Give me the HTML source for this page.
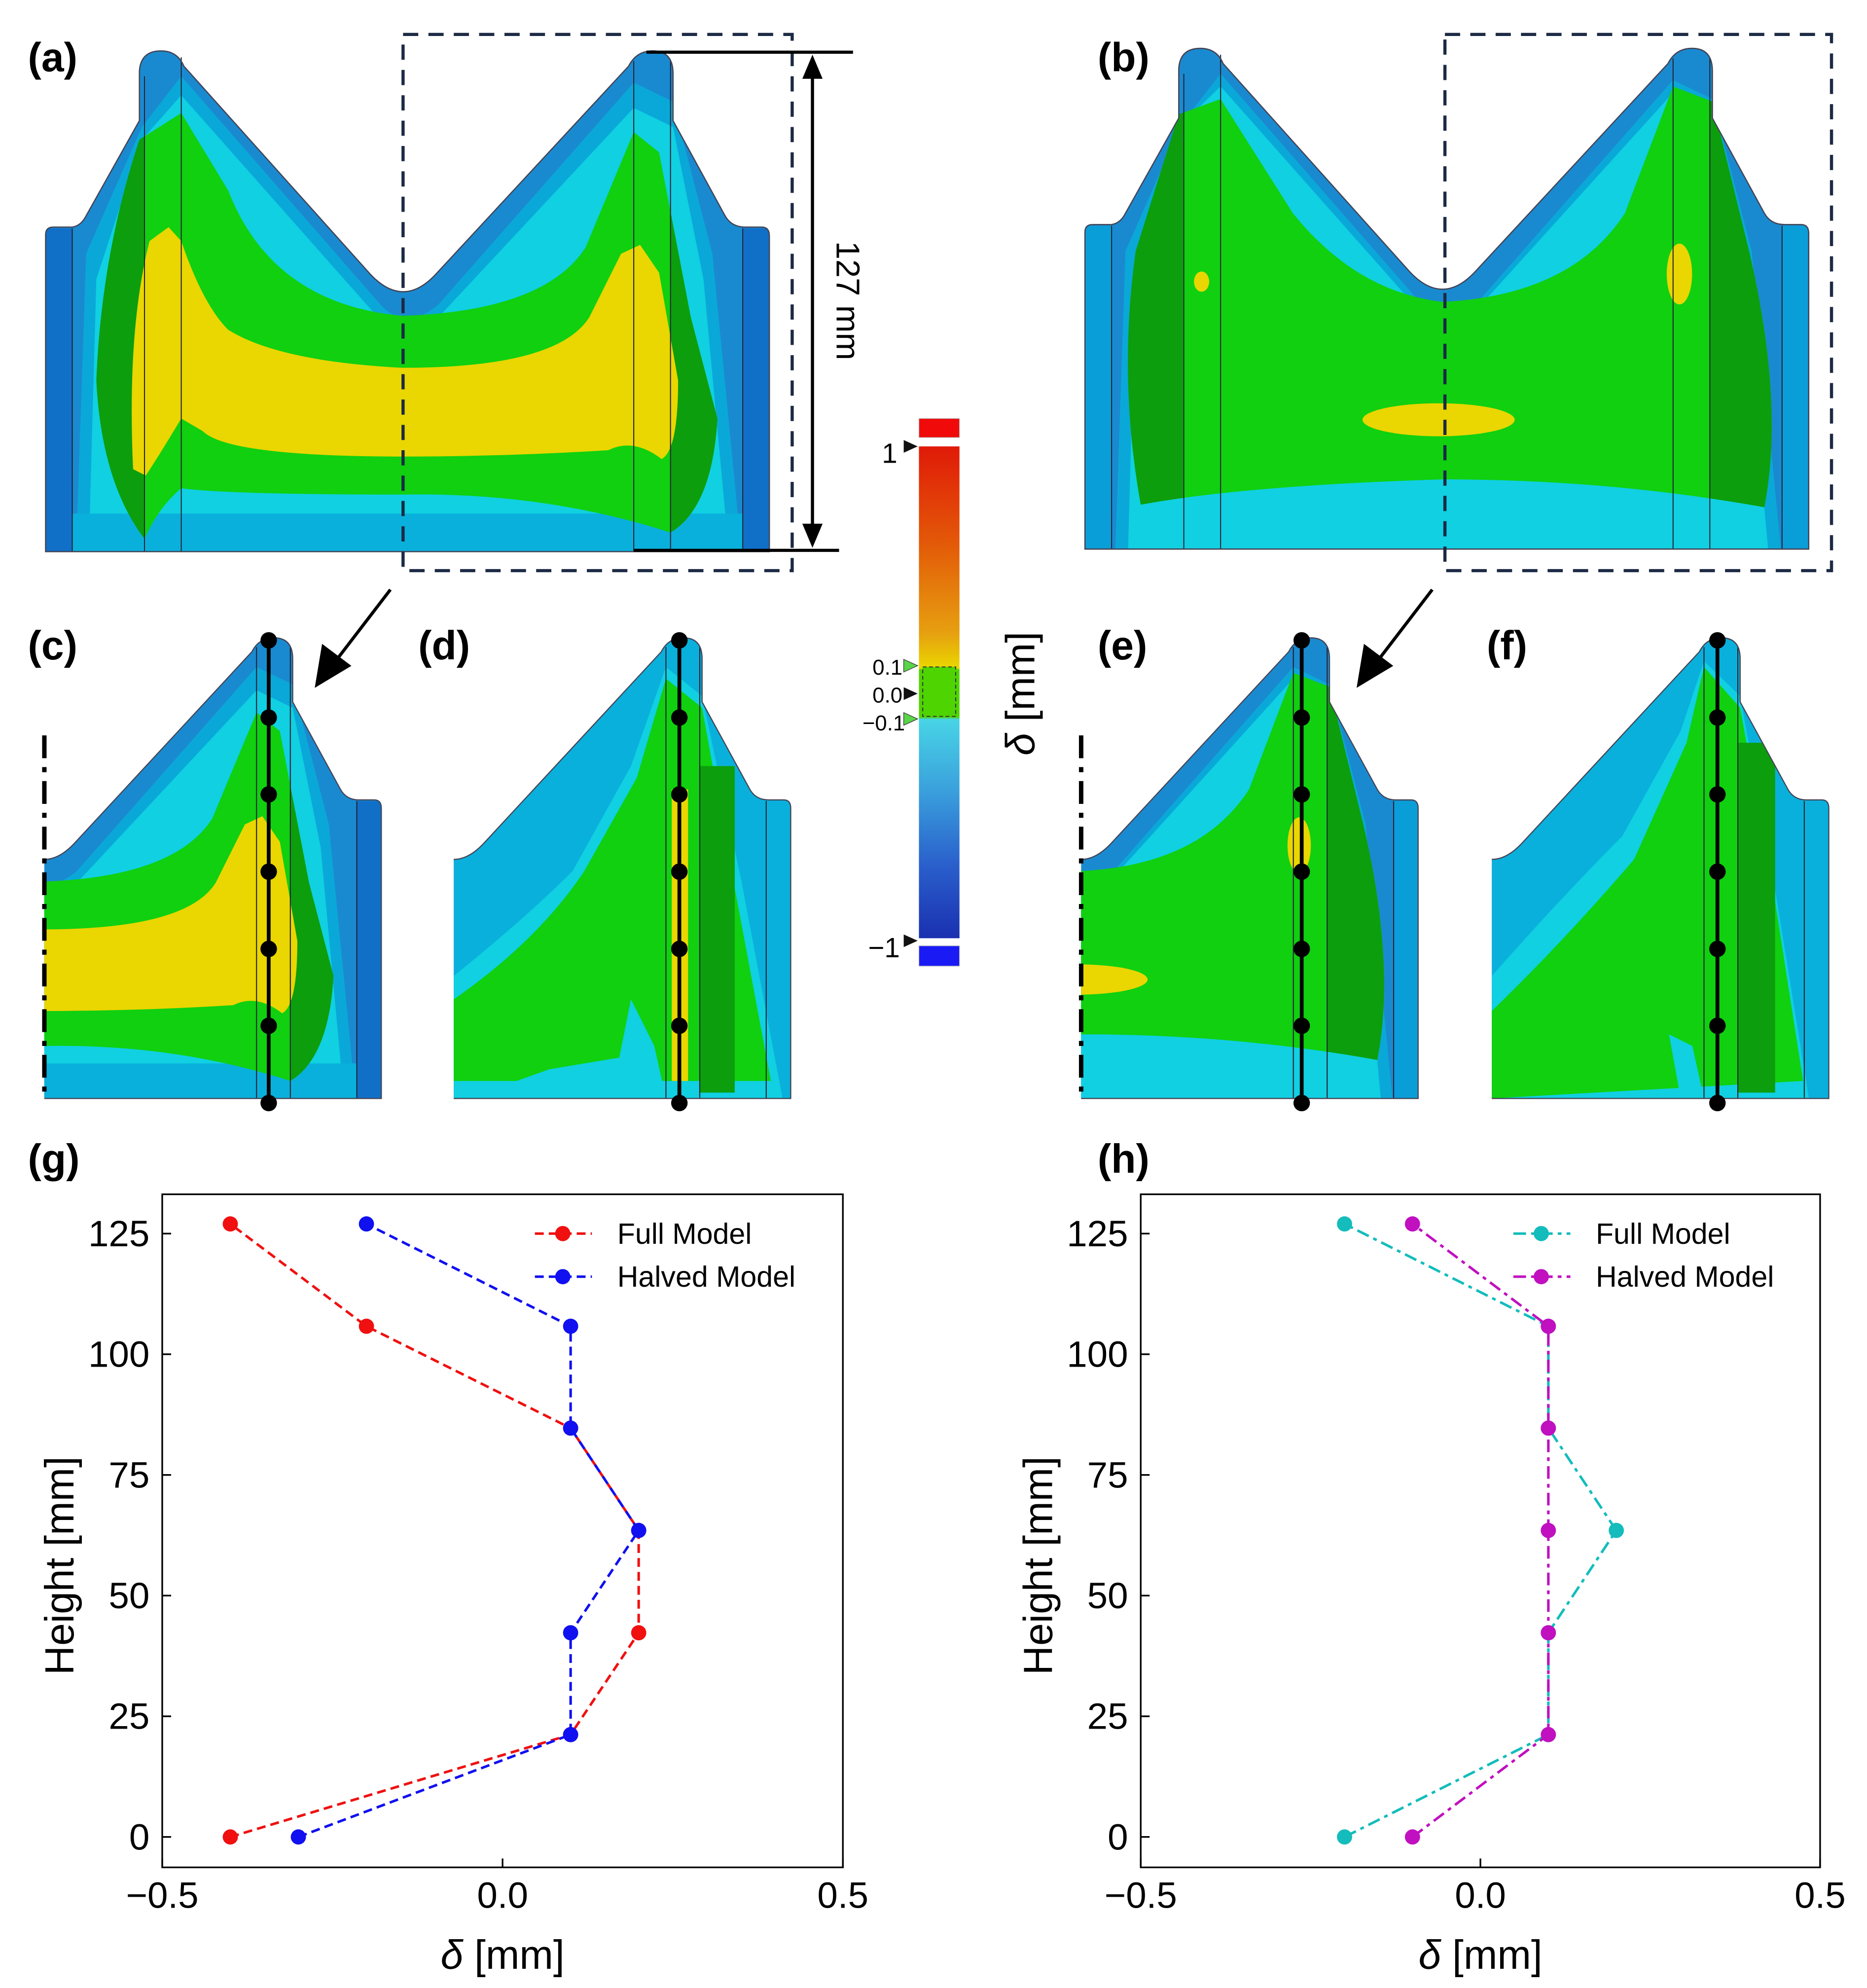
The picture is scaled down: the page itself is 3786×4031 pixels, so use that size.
<!DOCTYPE html>
<html><head><meta charset="utf-8"><style>
html,body{margin:0;padding:0;background:#fff}
svg{display:block}
text{font-family:"Liberation Sans","DejaVu Sans",sans-serif}
</style></head><body>
<svg id="fig" width="3786" height="4031" viewBox="0 0 1473 1568" xmlns="http://www.w3.org/2000/svg">
<defs>
<path id="outline" d="M36,435 L36,185 Q36,179 42,179 L57,179 Q64,178 68,170 L110,95 L110,56 Q111,40 127,40 Q140,40 145,52 L292,216 Q318,244 344,216 L496,52 Q502,40 515,40 Q531,40 531,58 L531,95 L572,170 Q577,179 588,179 L601,179 Q607,179 607,186 L607,435 Z"/>
<clipPath id="clipFull"><use href="#outline"/></clipPath>
<clipPath id="clipRight"><rect x="318" y="0" width="300" height="450"/></clipPath>
<path id="greenA" d="M114,425 Q80,380 76,300 Q80,200 110,110 L143,89 L180,150 Q215,240 318,249 Q430,245 462,195 L500,104 L520,120 L545,250 L566,330 Q562,400 529,420 Q430,388 318,390 Q180,390 143,385 Q125,400 114,425 Z"/>
<clipPath id="clipGreenA"><use href="#greenA"/></clipPath>
<path id="greenB" d="M80,400 Q62,300 76,200 L110,92 L143,80 L200,170 Q250,232 318,240 Q420,235 462,170 L500,70 L531,82 L560,200 Q588,320 572,402 Q450,380 318,380 Q160,385 80,400 Z"/>
<clipPath id="clipGreenB"><use href="#greenB"/></clipPath>
<linearGradient id="cbar" x1="0" y1="0" x2="0" y2="1">
<stop offset="0" stop-color="#e01a08"/><stop offset="0.2" stop-color="#e35a08"/><stop offset="0.38" stop-color="#e6a010"/><stop offset="0.45" stop-color="#ead600"/><stop offset="0.455" stop-color="#4ed400"/><stop offset="0.55" stop-color="#4ed400"/><stop offset="0.555" stop-color="#48d4e6"/><stop offset="0.7" stop-color="#3aa0dc"/><stop offset="0.85" stop-color="#2a60cc"/><stop offset="1" stop-color="#1a30b0"/>
</linearGradient>
<g id="layersA">
<use href="#outline" fill="#1a8ad0"/>
<path d="M60,435 L68,200 L112,100 L143,60 L300,240 Q320,262 346,240 L500,65 L531,80 L562,200 L585,435 Z" fill="#0aa8d8"/>
<path d="M70,435 L76,220 L112,110 L143,75 L298,250 Q320,272 346,250 L500,85 L531,100 L555,220 L575,435 Z" fill="#10d0e2"/>
<path d="M57,180 L36,180 L36,435 L57,435 Z M586,180 L607,180 L607,435 L586,435 Z" fill="#1070c8"/>
<rect x="57" y="405" width="529" height="30" fill="#0ab0dc"/>
<use href="#greenA" fill="#10d010"/>
<g clip-path="url(#clipGreenA)"><rect x="60" y="80" width="54" height="360" fill="#0c9e0c"/><rect x="529" y="80" width="45" height="360" fill="#0c9e0c"/></g>
<path d="M105,370 Q100,260 118,190 L133,179 L143,190 Q160,240 180,260 Q220,285 318,290 Q440,290 465,250 L490,200 L505,193 L520,215 L535,300 Q535,355 522,362 Q500,345 480,355 Q400,360 318,360 Q180,360 160,340 L143,330 Q125,360 115,375 Z" fill="#ead600"/>
</g>
<g id="layersB">
<use href="#outline" fill="#1a8ad0"/>
<path d="M60,435 L68,200 L112,100 L143,60 L300,240 Q320,262 346,240 L500,65 L531,80 L562,200 L585,435 Z" fill="#0aa8d8"/>
<path d="M70,435 L76,220 L112,100 L143,70 L298,245 Q320,266 346,245 L500,75 L531,90 L555,220 L575,435 Z" fill="#10d0e2"/>
<path d="M57,180 L36,180 L36,435 L57,435 Z M586,180 L607,180 L607,435 L586,435 Z" fill="#0a9ed8"/>
<use href="#greenB" fill="#10d010"/>
<g clip-path="url(#clipGreenB)"><rect x="60" y="80" width="54" height="360" fill="#0c9e0c"/><rect x="529" y="80" width="50" height="360" fill="#0c9e0c"/></g>
<ellipse cx="315" cy="333" rx="60" ry="13" fill="#ead600"/>
<ellipse cx="505" cy="218" rx="10" ry="24" fill="#ead600"/>
<ellipse cx="128" cy="224" rx="6" ry="8" fill="#ead600"/>
</g>
<g id="layersD">
<use href="#outline" fill="#0ab0dc"/>
<path d="M318,330 Q380,280 420,240 L470,150 L500,65 L531,90 L565,250 L600,435 L318,435 Z" fill="#10d0e2"/>
<path d="M318,350 Q390,300 430,240 L475,160 L500,75 L531,100 L560,260 L590,420 L318,420 Z" fill="#10d010"/>
<rect x="529" y="150" width="30" height="280" fill="#0c9e0c"/>
<rect x="505" y="170" width="14" height="250" fill="#ead600"/>
<path d="M330,435 L400,410 L460,400 L470,350 L490,390 L500,435 Z" fill="#10d0e2"/>
</g>
<g id="layersF">
<use href="#outline" fill="#0ab0dc"/>
<path d="M318,330 Q380,260 430,210 L480,120 L500,60 L531,90 L560,250 L590,435 L318,435 Z" fill="#10d0e2"/>
<path d="M318,360 Q380,300 440,230 L485,130 L500,65 L531,100 L560,260 L585,420 L318,435 Z" fill="#10d010"/>
<rect x="529" y="130" width="32" height="300" fill="#0c9e0c"/>
<path d="M480,435 L470,380 L490,390 L500,435 Z" fill="#10d0e2"/>
</g>
</defs>

<g clip-path="url(#clipFull)"><use href="#layersA"/></g>
<g stroke="#223" stroke-width="0.8"><line x1="57" y1="180" x2="57" y2="435"/><line x1="114" y1="60" x2="114" y2="435"/><line x1="143" y1="45" x2="143" y2="435"/><line x1="500" y1="48" x2="500" y2="435"/><line x1="529" y1="48" x2="529" y2="435"/><line x1="586" y1="180" x2="586" y2="435"/></g>
<use href="#outline" fill="none" stroke="#445" stroke-width="1"/>
<text x="22" y="56" font-size="32" font-weight="bold">(a)</text>
<rect x="318" y="27" width="307" height="423" fill="none" stroke="#1c2a44" stroke-width="2.5" stroke-dasharray="12,8"/>
<g stroke="#000" stroke-width="2.5">
<line x1="510" y1="41" x2="673" y2="41"/><line x1="500" y1="434" x2="662" y2="434"/><line x1="641" y1="55" x2="641" y2="420"/>
<path d="M641,43 L633,62 L649,62 Z M641,432 L633,413 L649,413 Z" fill="#000" stroke="none"/>
</g>
<text transform="translate(660,237) rotate(90)" font-size="26" text-anchor="middle">127 mm</text>

<g transform="translate(820,-2)">
<g clip-path="url(#clipFull)"><use href="#layersB"/></g>
<g stroke="#223" stroke-width="0.8"><line x1="57" y1="180" x2="57" y2="435"/><line x1="114" y1="60" x2="114" y2="435"/><line x1="143" y1="45" x2="143" y2="435"/><line x1="500" y1="48" x2="500" y2="435"/><line x1="529" y1="48" x2="529" y2="435"/><line x1="586" y1="180" x2="586" y2="435"/></g>
<use href="#outline" fill="none" stroke="#445" stroke-width="1"/>
</g>
<text x="866" y="56" font-size="32" font-weight="bold">(b)</text>
<rect x="1140" y="27" width="305" height="423" fill="none" stroke="#1c2a44" stroke-width="2.5" stroke-dasharray="12,8"/>

<g stroke="#000" stroke-width="2.5">
<line x1="308" y1="465" x2="262" y2="525"/><path d="M250,540 L255,510 L275,525 Z" fill="#000"/>
<line x1="1130" y1="465" x2="1084" y2="525"/><path d="M1072,540 L1077,510 L1097,525 Z" fill="#000"/>
</g>

<g transform="translate(-257.6,466.2) scale(0.92)">
<g clip-path="url(#clipRight)"><g clip-path="url(#clipFull)"><use href="#layersA"/></g>
<g stroke="#223" stroke-width="0.9"><line x1="500" y1="48" x2="500" y2="435"/><line x1="529" y1="48" x2="529" y2="435"/><line x1="586" y1="180" x2="586" y2="435"/></g>
<use href="#outline" fill="none" stroke="#445" stroke-width="1"/></g>
</g>
<g transform="translate(65.4,466.2) scale(0.92)">
<g clip-path="url(#clipRight)"><g clip-path="url(#clipFull)"><use href="#layersD"/></g>
<g stroke="#223" stroke-width="0.9"><line x1="500" y1="48" x2="500" y2="435"/><line x1="529" y1="48" x2="529" y2="435"/><line x1="586" y1="180" x2="586" y2="435"/></g>
<use href="#outline" fill="none" stroke="#445" stroke-width="1"/></g>
</g>
<g transform="translate(560.4,466.2) scale(0.92)">
<g clip-path="url(#clipRight)"><g clip-path="url(#clipFull)"><use href="#layersB"/></g>
<g stroke="#223" stroke-width="0.9"><line x1="500" y1="48" x2="500" y2="435"/><line x1="529" y1="48" x2="529" y2="435"/><line x1="586" y1="180" x2="586" y2="435"/></g>
<use href="#outline" fill="none" stroke="#445" stroke-width="1"/></g>
</g>
<g transform="translate(884.4,466.2) scale(0.92)">
<g clip-path="url(#clipRight)"><g clip-path="url(#clipFull)"><use href="#layersF"/></g>
<g stroke="#223" stroke-width="0.9"><line x1="500" y1="48" x2="500" y2="435"/><line x1="529" y1="48" x2="529" y2="435"/><line x1="586" y1="180" x2="586" y2="435"/></g>
<use href="#outline" fill="none" stroke="#445" stroke-width="1"/></g>
</g>
<g stroke="#000" stroke-width="3.5" stroke-dasharray="18,7,4,7">
<line x1="35" y1="580" x2="35" y2="862"/><line x1="853" y1="580" x2="853" y2="862"/>
</g>
<text x="22" y="520" font-size="32" font-weight="bold">(c)</text>
<text x="330" y="520" font-size="32" font-weight="bold">(d)</text>
<text x="866" y="520" font-size="32" font-weight="bold">(e)</text>
<text x="1173" y="520" font-size="32" font-weight="bold">(f)</text>
<g id="probes"></g>

<g>
<rect x="725" y="330" width="32" height="15" fill="#f00a0a" stroke="#bbb" stroke-width="0.5"/>
<rect x="725" y="352" width="32" height="388" fill="url(#cbar)"/>
<rect x="728" y="526" width="26" height="39" fill="#4ed400" stroke="#333" stroke-width="0.8" stroke-dasharray="3,2"/>
<rect x="725" y="746" width="32" height="16" fill="#1a1af5" stroke="#bbb" stroke-width="0.5"/>
<path d="M713,347 L724,352 L713,357 Z M713,542 L724,547 L713,552 Z M713,737 L724,742 L713,747 Z" fill="#111"/>
<path d="M713,520 L724,525 L713,530 Z M713,562 L724,567 L713,572 Z" fill="#5ad44a" stroke="#333" stroke-width="0.5"/>
<text x="708" y="365" font-size="22" text-anchor="end">1</text>
<text x="712" y="532" font-size="17" text-anchor="end">0.1</text>
<text x="712" y="554" font-size="17" text-anchor="end">0.0</text>
<text x="714" y="576" font-size="17" text-anchor="end">−0.1</text>
<text x="710" y="755" font-size="22" text-anchor="end">−1</text>
<text transform="translate(816,547) rotate(-90)" font-size="32" text-anchor="middle"><tspan font-style="italic">δ</tspan> [mm]</text>
</g>

<text x="22" y="925" font-size="32" font-weight="bold">(g)</text>
<text x="866" y="925" font-size="32" font-weight="bold">(h)</text>
<g id="charts"></g>
</svg>
<script>
const heights = [0, 21.2, 42.3, 63.5, 84.7, 105.8, 127];
const gFull = [-0.4, 0.1, 0.2, 0.2, 0.1, -0.2, -0.4];
const gHalved = [-0.3, 0.1, 0.1, 0.2, 0.1, 0.1, -0.2];
const hFull = [-0.2, 0.1, 0.1, 0.2, 0.1, 0.1, -0.2];
const hHalved = [-0.1, 0.1, 0.1, 0.1, 0.1, 0.1, -0.1];
const xTicks = [-0.5, 0.0, 0.5];
const xTickLabels = ["−0.5", "0.0", "0.5"];
const yTicks = [0, 25, 50, 75, 100, 125];
const legendLabels = ["Full Model", "Halved Model"];

const NS = "http://www.w3.org/2000/svg";
function mk(tag, attrs, parent){const e=document.createElementNS(NS,tag);for(const k in attrs)e.setAttribute(k,attrs[k]);parent.appendChild(e);return e;}
const yTop=942, yBot=1473, y0px=1449, yPer=3.808;
function yScale(v){return y0px - v*yPer;}

const probes=document.getElementById('probes');
[212,536,1027,1355].forEach(function(px){
  const ln=mk('line',{x1:px,y1:505,x2:px,y2:870,stroke:'#000','stroke-width':3},probes);
  
  
  heights.forEach(function(h){
    const c=mk('circle',{cx:px,cy:870-h*(365/127),r:6.5,fill:'#000'},probes);
    
    
  });
});

function chart(x0,x1,series,colors,dashes){
  const root=document.getElementById('charts');
  const g=mk('g',{},root);
  
  
  function xScale(v){return x0+(v+0.5)*(x1-x0);}
  const frame=mk('rect',{x:x0,y:yTop,width:x1-x0,height:yBot-yTop,fill:'none',stroke:'#000','stroke-width':1.3},g);
  
  
  xTicks.forEach(function(t,i){
    const x=xScale(t);
    mk('line',{x1:x,y1:yBot,x2:x,y2:yBot-7,stroke:'#000','stroke-width':1.3},g);
    const tl=mk('text',{x:x,y:yBot+32,'font-size':29,'text-anchor':'middle'},g);
    tl.textContent=xTickLabels[i];
    
    
  });
  yTicks.forEach(function(t){
    const y=yScale(t);
    mk('line',{x1:x0,y1:y,x2:x0+7,y2:y,stroke:'#000','stroke-width':1.3},g);
    const tl=mk('text',{x:x0-10,y:y+10,'font-size':29,'text-anchor':'end'},g);
    tl.textContent=String(t);
    
    
  });
  const xt=mk('text',{x:(x0+x1)/2,y:1553,'font-size':32,'text-anchor':'middle'},g);
  xt.innerHTML='<tspan font-style="italic">δ</tspan> [mm]';
  
  
  const yt=mk('text',{x:0,y:0,'font-size':32,'text-anchor':'middle',transform:'translate('+(x0-70)+',1235) rotate(-90)'},g);
  yt.textContent='Height [mm]';
  
  
  series.forEach(function(vals,si){
    const pts=vals.map(function(v,i){return xScale(v)+','+yScale(heights[i]);}).join(' ');
    const pl=mk('polyline',{points:pts,fill:'none',stroke:colors[si],'stroke-width':2,'stroke-dasharray':dashes},g);
    
    
    vals.forEach(function(v,i){
      const c=mk('circle',{cx:xScale(v),cy:yScale(heights[i]),r:6,fill:colors[si]},g);
      
      
    });
    const ly=973+si*34, lx=x0+294;
    const ll=mk('line',{x1:lx,y1:ly,x2:lx+45,y2:ly,stroke:colors[si],'stroke-width':2,'stroke-dasharray':dashes},g);
    
    
    mk('circle',{cx:lx+22,cy:ly,r:6,fill:colors[si]},g);
    const lt=mk('text',{x:lx+65,y:ly+8,'font-size':23},g);
    lt.textContent=legendLabels[si];
    
    
  });
}
chart(128,665,[gFull,gHalved],['#f01010','#1010f0'],'7,4');
chart(900,1436,[hFull,hHalved],['#14bcbc','#c010c0'],'10,4,3,4');
</script>
</body></html>
